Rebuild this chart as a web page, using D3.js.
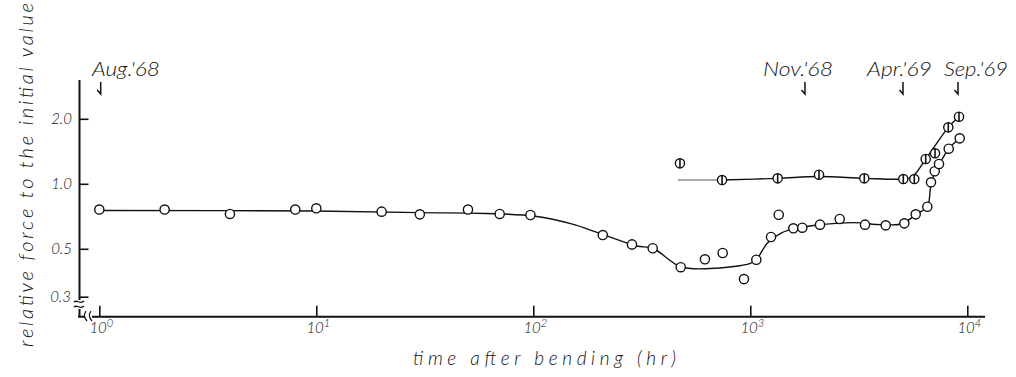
<!DOCTYPE html>
<html>
<head>
<meta charset="utf-8">
<script src="https://cdn.jsdelivr.net/npm/d3@7/dist/d3.min.js"></script>
<style>
  html, body { margin: 0; padding: 0; background: #fff; }
  svg { display: block; }
  text { font-family: "Lato", "DejaVu Sans", sans-serif; font-style: italic; font-weight: 300; fill: #111; }
</style>
</head>
<body>
<svg id="chart" width="1016" height="377"></svg>
<script>
// Relative bending force vs. time after bending (log–log)

// open circles (lower series)
const openTime  = [1, 2, 4, 8, 10, 20, 30, 50, 70, 97, 209, 285, 355, 478, 618, 746, 935, 1066, 1246, 1352,
                   1579, 1736, 2095, 2582, 3378, 4207, 5125, 5784, 6542, 6803, 7077, 7406, 8211, 9226];
const openValue = [0.76, 0.76, 0.725, 0.76, 0.77, 0.743, 0.722, 0.76, 0.725, 0.717, 0.579, 0.524, 0.503, 0.411, 0.447, 0.478, 0.362, 0.445, 0.567, 0.719,
                   0.622, 0.626, 0.647, 0.687, 0.647, 0.642, 0.656, 0.722, 0.783, 1.016, 1.143, 1.235, 1.454, 1.624];

// barred circles (upper series)
const crossTime  = [474, 741, 1337, 2073, 3352, 5071, 5699, 6431, 7100, 8174, 9158];
const crossValue = [1.244, 1.041, 1.06, 1.102, 1.06, 1.052, 1.052, 1.303, 1.384, 1.826, 2.045];

// hand-fitted curves
const lowerFitTime  = [1, 10, 30, 60, 100, 150, 200, 300, 355, 478, 650, 1000, 1066, 1200, 1400, 1700, 2000,
                       3000, 4000, 5000, 5800, 6542, 6782, 7100, 7620, 8211, 9226];
const lowerFitValue = [0.752, 0.748, 0.735, 0.729, 0.709, 0.652, 0.592, 0.515, 0.503, 0.413, 0.405, 0.428, 0.445, 0.532, 0.594, 0.626, 0.643,
                       0.661, 0.647, 0.653, 0.722, 0.783, 0.970, 1.138, 1.289, 1.454, 1.624];
const upperLeadTime  = [464, 741];
const upperLeadValue = [1.041, 1.041];
const upperFitTime  = [741, 1337, 2073, 3352, 5071, 5560, 6431, 8174, 9158];
const upperFitValue = [1.041, 1.06, 1.081, 1.06, 1.052, 1.075, 1.30, 1.826, 2.045];

// calendar marks
const eventLabels = ["Aug.'68", "Nov.'68", "Apr.'69", "Sep.'69"];
const eventTimes  = [1.015, 1786, 5054, 9060];

// axis ticks
const xTicks = [1, 10, 100, 1000, 10000];
const xTickExp = ["0", "1", "2", "3", "4"];
const yTicks = [0.3, 0.5, 1.0, 2.0];
const yTickLabels = ["0.3", "0.5", "1.0", "2.0"];

// ---- layout ----
const svg = d3.select("#chart");
const x = d3.scaleLog().domain([1, 10000]).range([99.3, 967.3]);
const y = d3.scaleLog().domain([0.3, 2.0]).range([296.7, 118.8]);
const axisY = 316.7, axisX = 79.5;
const ink = "#111";

// axis lines with breaks
svg.append("path").attr("d", `M${axisX},80 V300`).attr("stroke", ink).attr("stroke-width", 2).attr("fill", "none");
svg.append("path").attr("d", `M${axisX},309 V${axisY}`).attr("stroke", ink).attr("stroke-width", 2).attr("fill", "none");
svg.append("path").attr("d", `M74,302 C77,299 80,305 84,301`).attr("stroke", ink).attr("stroke-width", 1.3).attr("fill", "none");
svg.append("path").attr("d", `M74,307 C77,304 80,310 84,306`).attr("stroke", ink).attr("stroke-width", 1.3).attr("fill", "none");
svg.append("path").attr("d", `M78,${axisY} H85 M92,${axisY} H985`).attr("stroke", ink).attr("stroke-width", 2).attr("fill", "none");
svg.append("path").attr("d", `M86,311 C84,314 84,318 87,321 M91,311 C89,314 89,318 92,321`).attr("stroke", ink).attr("stroke-width", 1.2).attr("fill", "none");

// ticks via d3 axes (drawn inward)
const gx = svg.append("g").attr("transform", `translate(0,${axisY})`)
  .call(d3.axisBottom(x).tickValues(xTicks).tickSize(-11).tickFormat(""));
const gy = svg.append("g").attr("transform", `translate(${axisX},0)`)
  .call(d3.axisLeft(y).tickValues(yTicks).tickSize(-9).tickFormat(""));
[gx, gy].forEach(g => {
  g.select(".domain").remove();
  g.selectAll(".tick line").attr("stroke", ink).attr("stroke-width", 1.6);
});

// x tick labels 10^n
const xl = svg.append("g").selectAll("text").data(xTicks).join("text")
  .attr("x", d => x(d) + 2).attr("y", 333)
  .attr("text-anchor", "middle").attr("font-size", 15);
xl.append("tspan").text("10");
xl.append("tspan").attr("dy", -6).attr("font-size", 11).text((d, i) => xTickExp[i]);

// y tick labels
svg.append("g").selectAll("text").data(yTicks).join("text")
  .attr("x", d => d === 0.3 ? 71 : 72)
  .attr("y", d => y(d) + 5)
  .attr("text-anchor", "end").attr("font-size", 15)
  .text((d, i) => yTickLabels[i]);

// axis titles
svg.append("text").attr("x", 413).attr("y", 365).attr("font-size", 19)
  .attr("textLength", 263).attr("lengthAdjust", "spacing")
  .text("time  after bending (hr)");
svg.append("text").attr("transform", "translate(33,175) rotate(-90)")
  .attr("text-anchor", "middle").attr("font-size", 20)
  .attr("textLength", 344).attr("lengthAdjust", "spacing")
  .text("relative force to the initial value");

// calendar annotations
const labelOffset = [-8.7, -42, -36, -14];
const labelWidth = [68, 70, 65, 64];
const ev = svg.append("g").selectAll("g").data(eventTimes).join("g");
ev.append("text")
  .attr("x", (d, i) => x(d) + labelOffset[i]).attr("y", 76)
  .attr("font-size", 19)
  .attr("textLength", (d, i) => labelWidth[i]).attr("lengthAdjust", "spacingAndGlyphs")
  .text((d, i) => eventLabels[i]);
ev.append("path")
  .attr("d", d => `M${x(d)},82 V94 L${x(d) - 3.5},90`)
  .attr("stroke", ink).attr("stroke-width", 1.5).attr("fill", "none");

// fitted curves
const line = d3.line().x(d => x(d[0])).y(d => y(d[1])).curve(d3.curveCatmullRom.alpha(0.5));
svg.append("path").datum(lowerFitTime.map((t, i) => [t, lowerFitValue[i]]))
  .attr("d", line).attr("fill", "none").attr("stroke", ink).attr("stroke-width", 1.4);
svg.append("path").datum(upperLeadTime.map((t, i) => [t, upperLeadValue[i]]))
  .attr("d", line).attr("fill", "none").attr("stroke", "#444").attr("stroke-width", 0.9);
svg.append("path").datum(upperFitTime.map((t, i) => [t, upperFitValue[i]]))
  .attr("d", line).attr("fill", "none").attr("stroke", ink).attr("stroke-width", 1.4);

// open circle markers
svg.append("g").selectAll("circle").data(openTime.map((t, i) => [t, openValue[i]])).join("circle")
  .attr("cx", d => x(d[0])).attr("cy", d => y(d[1])).attr("r", 4.6)
  .attr("fill", "#fff").attr("stroke", ink).attr("stroke-width", 1.4);

// barred circle markers
const cm = svg.append("g").selectAll("g").data(crossTime.map((t, i) => [t, crossValue[i]])).join("g")
  .attr("transform", d => `translate(${x(d[0])},${y(d[1])})`);
cm.append("circle").attr("r", 4.6).attr("fill", "#fff").attr("stroke", ink).attr("stroke-width", 1.4);
cm.append("line").attr("x1", 0).attr("x2", 0).attr("y1", -4.6).attr("y2", 4.6).attr("stroke", ink).attr("stroke-width", 1.6);
</script>
</body>
</html>
